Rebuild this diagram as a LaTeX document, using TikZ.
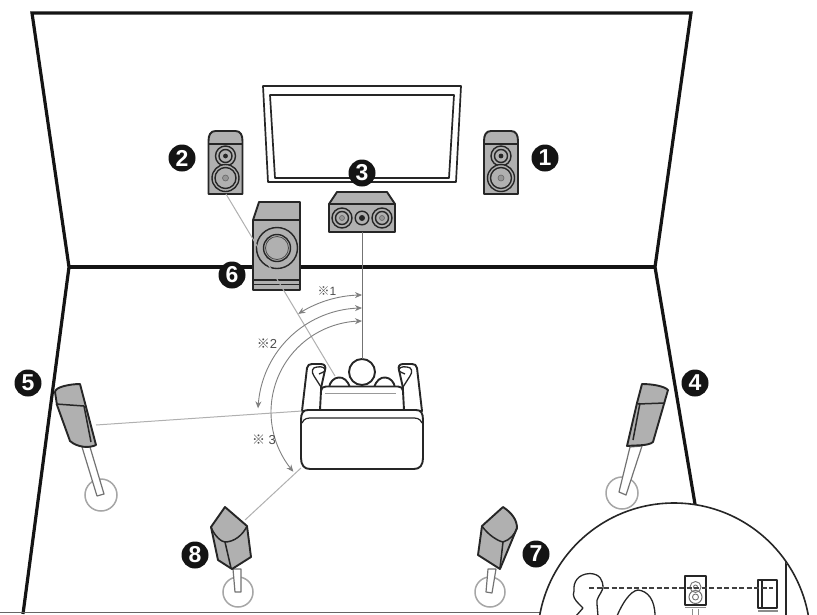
\documentclass[tikz,border=0pt]{standalone}
\usepackage{fontspec}
\setmainfont{Liberation Sans}
\newfontfamily\cjkf{Noto Sans CJK JP}
\usetikzlibrary{arrows.meta}
\definecolor{spk}{HTML}{B0B0B0}
\definecolor{ink}{HTML}{262626}
\definecolor{thin}{HTML}{B0B0B0}
\definecolor{arcgray}{HTML}{808080}
\tikzset{
  wall/.style={line width=3.2pt,color=black!92},
  badge/.style={circle,fill=black!92,text=white,minimum size=27pt,inner sep=0pt,font=\fontsize{23}{23}\selectfont\bfseries},
  body/.style={draw=ink,fill=spk,line width=1.9pt,line join=round},
  edge1/.style={draw=ink,line width=1.5pt,line join=round},
  cone/.style={draw=ink,fill=spk,line width=1.4pt},
  wire/.style={draw=thin,line width=1pt},
  stem/.style={draw=black!55,fill=white,line width=1.2pt,line join=round},
  foot/.style={draw=black!35,fill=white,line width=1.5pt},
  sweep/.style={draw=arcgray,line width=0.9pt,samples=50,variable=\t},
  sofa/.style={draw=ink,fill=white,line width=1.9pt,line join=round},
  note/.style={text=black!70,font=\fontsize{12}{12}\selectfont,inner sep=0pt},
  inset/.style={draw=ink,line width=1.3pt,line join=round}
}
\begin{document}
\begin{tikzpicture}[x=1pt,y=-1pt]
\useasboundingbox (0,0) rectangle (817,614);
\fill[white] (0,0) rectangle (817,614);
% room
\draw[wall,line join=miter] (69,267) -- (32,13) -- (691,13) -- (655,267);
\draw[wall] (69,267) -- (655,267);
\draw[wall] (69,267) -- (23,614);
\draw[wall] (655,267) -- (696,510);
\draw[black!60,line width=1.4pt] (0,612.5) -- (545,612.5);
% screen
\draw[ink,line width=1.7pt,line join=round] (263,86) -- (461,86) -- (456,182) -- (268,182) -- cycle;
\draw[ink,line width=1.7pt,line join=round] (270,95) -- (454,95) -- (449,178) -- (275,178) -- cycle;
% front speakers
\foreach \cx in {225.5,501}{
  \draw[body] (\cx-17,194) -- (\cx-17,141) .. controls (\cx-17,135) and (\cx-15,131) .. (\cx-10,131) -- (\cx+10,131) .. controls (\cx+15,131) and (\cx+17,135) .. (\cx+17,141) -- (\cx+17,194) -- cycle;
  \draw[edge1] (\cx-17,144) -- (\cx+17,144);
  \draw[cone] (\cx,156) circle (10);
  \draw[cone] (\cx,156) circle (6.5);
  \fill[ink] (\cx,156) circle (2.4);
  \draw[cone] (\cx,178) circle (13.5);
  \draw[cone] (\cx,178) circle (10.5);
  \draw[black!60,fill=spk!85!black,line width=.6pt] (\cx,178) circle (3);
}
\coordinate (spkLfoot) at (226,194);
% centre speaker
\draw[body] (329,232) -- (329,204) -- (337,192) -- (387,192) -- (395,204) -- (395,232) -- cycle;
\draw[edge1] (329,204) -- (395,204);
\foreach \cx in {342,382}{
  \draw[cone] (\cx,218) circle (10);
  \draw[cone] (\cx,218) circle (6.5);
  \draw[black!60,fill=spk!85!black,line width=.6pt] (\cx,218) circle (2.5);
}
\draw[cone] (362,218) circle (6.8);
\fill[ink] (362,218) circle (3);
\coordinate (ctrFoot) at (362,232);
% subwoofer
\draw[body] (253,290) -- (253,220) -- (259,202) -- (300,202) -- (300,290) -- cycle;
\draw[edge1] (253,220) -- (300,220);
\draw[edge1] (253,280) -- (300,280);
\draw[edge1] (253,284.5) -- (300,284.5);
\draw[cone] (277,248) circle (20.5);
\draw[cone] (277,248) circle (13.5);
\draw[black!70,line width=.8pt] (277,248) circle (11.5);
% sofa arms
\draw[sofa] (302,411) -- (307,368) .. controls (308,365) and (309,364) .. (312,364) -- (321,364) .. controls (325,364) and (326,367) .. (325,370) -- (321,388) -- (321,411) -- cycle;
\draw[sofa] (422,411) -- (417,368) .. controls (416,365) and (415,364) .. (412,364) -- (403,364) .. controls (399,364) and (398,367) .. (399,370) -- (403,388) -- (403,411) -- cycle;
% shoulders and head
\draw[sofa] (329,388) .. controls (330,376) and (346,372) .. (350,388) -- cycle;
\draw[sofa] (395,388) .. controls (394,376) and (378,372) .. (374,388) -- cycle;
\node[sofa,circle,minimum size=26pt,inner sep=0pt] (head) at (362,372) {};
\draw[sofa] (320,410) -- (321,391) .. controls (321,388) and (323,386.5) .. (326,386.5) -- (398,386.5) .. controls (401,386.5) and (403,388) .. (403,391) -- (404,410) -- cycle;
\draw[black!40,line width=1.2pt] (325,393.5) -- (396,393.5);
% hands
\draw[ink,line width=1.3pt,line join=round] (321,387) -- (314,376) .. controls (311,372) and (312,367) .. (317,367) .. controls (322,366) and (326,368) .. (325,371) .. controls (324,373) and (321,372) .. (319,374);
\draw[ink,line width=1.3pt,line join=round] (403,387) -- (410,376) .. controls (413,372) and (412,367) .. (407,367) .. controls (402,366) and (398,368) .. (399,371) .. controls (400,373) and (403,372) .. (405,374);
% seat
\draw[sofa] (301,420) .. controls (301,413) and (303,410) .. (308,410) -- (416,410) .. controls (421,410) and (423,413) .. (423,420) -- (423,458) .. controls (423,465) and (420,469) .. (414,469) -- (310,469) .. controls (304,469) and (301,465) .. (301,458) -- cycle;
\draw[ink,line width=1.2pt] (302,423) .. controls (304,418) and (308,418) .. (312,418) -- (412,418) .. controls (416,418) and (420,418) .. (422,423);
\coordinate (lisTop) at (362,359);
\coordinate (lisL) at (335,376);
\coordinate (lisW) at (302,411);
\coordinate (lisSW) at (301,468);
% surround speakers
\draw[foot] (101,495) circle (16);
\draw[stem] (82,447) -- (97,496) -- (104,494) -- (90,447) -- cycle;
\draw[body] (55,392) .. controls (55,387) and (70,384) .. (80,384) -- (96,445) .. controls (90,448) and (78,448) .. (70,441) -- (57,405) -- cycle;
\draw[edge1] (56,404) -- (84,406);
\draw[edge1] (84,406) -- (91,442);
\coordinate (spk5) at (96,425);

\draw[foot] (622,493) circle (16);
\draw[stem] (630,447) -- (619,492) -- (626,495) -- (642,446) -- cycle;
\draw[body] (642,384) .. controls (652,384) and (664,386) .. (668,390) -- (653,442) .. controls (648,446) and (638,445) .. (627,446) -- (637,403) -- cycle;
\draw[edge1] (638,404) -- (665,403);
\draw[edge1] (640,403) -- (633,440);

\draw[foot] (238,592) circle (15);
\draw[stem] (233,569) -- (235,592) -- (241,592) -- (241,569) -- cycle;
\draw[body] (225,507) -- (247,526) -- (251,557) -- (232,569) -- (218,560) -- (211,527) -- cycle;
\draw[edge1] (211,527) .. controls (215,537) and (222,542) .. (225,542) .. controls (234,542) and (243,535) .. (247,526);
\draw[edge1] (225,542) -- (231,568);
\coordinate (spk8) at (245,520);

\draw[foot] (490,592) circle (15);
\draw[stem] (488,569) -- (486,592) -- (492,593) -- (496,569) -- cycle;
\draw[body] (503,507) .. controls (512,513) and (517,520) .. (517,528) -- (500,569) -- (478,555) -- (482,526) -- cycle;
\draw[edge1] (482,526) .. controls (488,535) and (498,541) .. (503,542) .. controls (510,540) and (515,534) .. (517,528);
\draw[edge1] (503,542) -- (500,568);
% wires
\draw[wire,draw=black!55,line width=.8pt] (ctrFoot) -- (lisTop);
\draw[wire] (spkLfoot) -- (lisL);
\draw[wire] (spk5) -- (lisW);
\draw[wire] (spk8) -- (lisSW);
% sweep arcs
\draw[sweep,{Stealth[length=7pt,width=6pt]}-{Stealth[length=7pt,width=6pt]}] plot[domain=123:90] ({362+117*cos(\t)},{412-117*sin(\t)});
\draw[sweep,{Stealth[length=7pt,width=6pt]}-{Stealth[length=7pt,width=6pt]}] plot[domain=178:90] ({362+104*cos(\t)},{412-104*sin(\t)});
\draw[sweep,{Stealth[length=7pt,width=6pt]}-{Stealth[length=7pt,width=6pt]}] plot[domain=221:90] ({362+91*cos(\t)},{412-91*sin(\t)});
\node[note] (n1) at (327,291) {{\cjkf ※}1};
\node[note,font=\fontsize{13}{13}\selectfont] (n2) at (267,344) {{\cjkf ※}2};
\node[note,font=\fontsize{13}{13}\selectfont] (n3) at (264,440) {{\cjkf ※} 3};
% inset
\begin{scope}
\draw[draw=ink,fill=white,line width=1.6pt] (674,639.4) circle (136.4);
\clip (674,639.4) circle (135.7);
\draw[inset] (576,616) -- (583,608) -- (579,604) .. controls (575,600) and (572,596) .. (574,591) .. controls (573,582) and (578,574) .. (590,573.5) .. controls (600,574) and (603,580) .. (603,588) .. controls (600,596) and (596,598) .. (597,604) -- (598,616);
\draw[inset] (617,616) .. controls (622,604) and (630,591) .. (638,590) .. controls (648,591) and (655,600) .. (655,616);
\draw[inset,fill=white] (685,576) rectangle (706,605);
\draw[black!55,line width=.9pt] (695.5,587) circle (5.5);
\draw[black!55,line width=.9pt] (695.5,587) circle (2);
\draw[black!55,line width=1pt] (695.5,597) circle (6.5);
\draw[black!55,line width=.9pt] (695.5,597) circle (3);
\draw[black!45,line width=1.6pt] (685,607.5) -- (706,607.5);
\draw[black!45,line width=1pt] (692.5,609) -- (692.5,616) (698.5,609) -- (698.5,616);
\draw[inset] (758,580) -- (777,580) -- (777,608) -- (758,608) -- cycle;
\draw[inset] (762,580) -- (762,608);
\draw[black!45,line width=1.6pt] (758,611) -- (778,611);
\draw[ink,line width=1.5pt] (786,562) -- (786,616);
\draw[black!75,line width=1.2pt,dash pattern=on 5pt off 2.5pt] (589,588) -- (773,588);
\end{scope}
% badges
\node[badge] (b1) at (545,158) {1};
\node[badge] (b2) at (182,158) {2};
\node[badge] (b3) at (362,173) {3};
\node[badge] (b4) at (695,383) {4};
\node[badge] (b5) at (28,383) {5};
\node[badge] (b6) at (232,275) {6};
\node[badge] (b7) at (536,554) {7};
\node[badge] (b8) at (195,555) {8};
\end{tikzpicture}
\end{document}
